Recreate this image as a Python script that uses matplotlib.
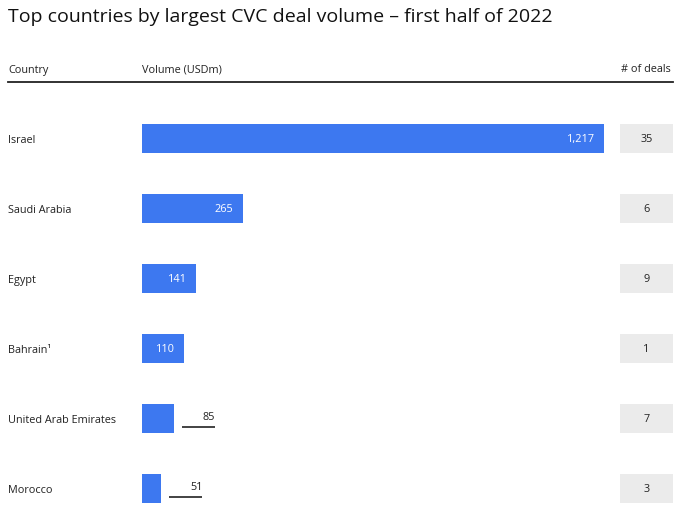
import numpy as np
import matplotlib.pyplot as plt

plt.rcParams['font.family'] = ['Open Sans', 'DejaVu Sans']

# data
countries = ['Israel', 'Saudi Arabia', 'Egypt', 'Bahrain¹', 'United Arab Emirates', 'Morocco']
volume = [1217, 265, 141, 110, 85, 51]
deals = [35, 6, 9, 1, 7, 3]

W, H = 680, 517
bar_col = '#3d78f0'
box_col = '#ebebeb'
txt_col = '#222222'
fs = 7.8

fig = plt.figure(figsize=(W / 100, H / 100), dpi=100)

def fx(px):
    return px / W

def fy(py):
    return 1 - py / H

# title and header
fig.text(fx(8), fy(17), 'Top countries by largest CVC deal volume \u2013 first half of 2022',
         fontsize=14, color='#111111', va='center', ha='left')
fig.text(fx(8), fy(70), 'Country', fontsize=fs, color=txt_col, va='center')
fig.text(fx(142), fy(70), 'Volume (USDm)', fontsize=fs, color=txt_col, va='center')
fig.text(fx(671), fy(70), '# of deals', fontsize=fs, color=txt_col, va='center', ha='right')
fig.add_artist(plt.Line2D([fx(8), fx(673)], [fy(82), fy(82)], color='#222222', lw=1.3))

# bar axes: x 142..604 px maps to 0..max volume, one row = 70 px
y = np.arange(len(countries))
top, bottom = 103.5, 517
ax = fig.add_axes([fx(142), 0, (604 - 142) / W, (bottom - top) / H])
ax.barh(y, volume, height=29 / 70, color=bar_col)
ax.set_xlim(0, max(volume))
ax.set_ylim(5.4, -0.5)
ax.axis('off')

upx = max(volume) / 462.0   # data units per pixel
rpx = 1 / 70.0              # rows per pixel
for i, v in enumerate(volume):
    if v >= 100:
        ax.text(v - 9 * upx, i + 1 * rpx, f'{v:,}', color='white', fontsize=fs,
                ha='right', va='center')
    else:
        ax.plot([v + 8 * upx, v + 41 * upx], [i + 8 * rpx, i + 8 * rpx],
                color=txt_col, lw=1.2, solid_capstyle='butt')
        ax.text(v + 41 * upx, i - 1 * rpx, f'{v:,}', color=txt_col, fontsize=fs,
                ha='right', va='center')

# country labels
for i, c in enumerate(countries):
    ax.text(-134 * upx, i + 1.5 * rpx, c, fontsize=fs, color=txt_col, ha='left',
            va='center', clip_on=False)

# deals boxes
ax2 = fig.add_axes([fx(620), 0, (673 - 620) / W, (bottom - top) / H])
ax2.barh(y, [1] * len(deals), height=29 / 70, color=box_col)
ax2.set_xlim(0, 1)
ax2.set_ylim(5.4, -0.5)
ax2.axis('off')
for i, d in enumerate(deals):
    ax2.text(0.5, i + 1 * rpx, str(d), fontsize=fs, color=txt_col, ha='center', va='center')

fig.savefig('out.png', dpi=100)
